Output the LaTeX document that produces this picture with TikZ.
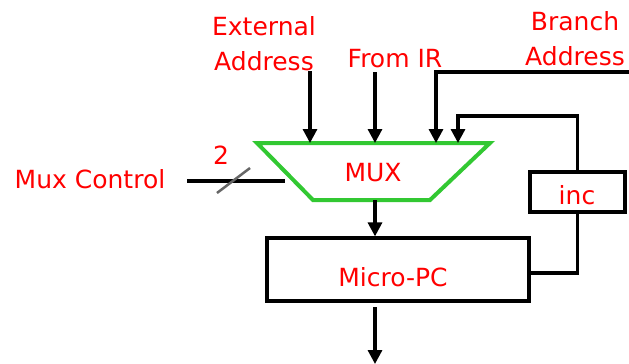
\documentclass[tikz,border=0pt]{standalone}
\usepackage{fontspec}
\setmainfont{DejaVu Sans}
\usetikzlibrary{arrows.meta}
\definecolor{muxgreen}{RGB}{50,200,50}
\definecolor{lbl}{RGB}{255,0,0}
\begin{document}
\begin{tikzpicture}[x=1pt,y=-1pt,
  lbltext/.style={text=lbl,font={\fontsize{25}{35}\selectfont},inner sep=0pt,align=center},
  boxstyle/.style={draw=black,line width=3.2pt,minimum width=#1,inner sep=0pt},
  wire/.style={line width=3.2pt,draw=black},
  arr/.style={wire,-{Triangle[width=14pt,length=14pt]}}]
\useasboundingbox (0,0) rectangle (629,364);
% MUX trapezoid
\coordinate (tl) at (257,143);
\coordinate (tr) at (490,143);
\coordinate (br) at (430,200);
\coordinate (bl) at (313,200);
\draw[draw=muxgreen,line width=4pt,line join=miter] (tl) -- (tr) -- (br) -- (bl) -- cycle;
\node[lbltext] (mux) at (373,173) {MUX};
% boxes
\node[boxstyle=262pt,minimum height=63pt] (pc) at (398,269.5) {};
\node[lbltext] (pclabel) at (393,277) {Micro-PC};
\node[boxstyle=95pt,minimum height=40pt] (inc) at (577.5,192) {};
\node[lbltext] (inclabel) at (577,195) {inc};
% labels
\node[lbltext] (ext) at (264,44) {External\\Address};
\node[lbltext] (fir) at (395,59) {From IR};
\node[lbltext] (brl) at (575,39) {Branch\\Address};
\node[lbltext] (mc) at (90,179) {Mux Control};
\node[lbltext] (two) at (221,155) {2};
% connector end points
\coordinate (extS) at (310,71);
\coordinate (extE) at (310,143);
\coordinate (firS) at (375,72);
\coordinate (firE) at (375,143);
\coordinate (brS) at (629,72);
\coordinate (brE) at (436,143);
\coordinate (incE) at (458,143);
\coordinate (muxOut) at (375,200);
\coordinate (pcOut) at (375,307);
\coordinate (outE) at (375,364);
\coordinate (mcS) at (187,181);
\coordinate (mcE) at (285,181);
\coordinate (sl1) at (217,193);
\coordinate (sl2) at (250,168);
% wires
\draw[arr] (extS) -- (extE);
\draw[arr] (firS) -- (firE);
\draw[arr] (brS) -| (brE);
\draw[arr] (inc.north) |- (458,116) -- (incE);
\draw[arr] (muxOut) -- (pc.north -| muxOut);
\draw[arr] (pcOut) -- (outE);
\draw[wire] (pc.east |- 0,273) -| (inc.south);
\draw[wire] (mcS) -- (mcE);
\draw[line width=2.5pt,draw=black!60] (sl1) -- (sl2);
\end{tikzpicture}
\end{document}
